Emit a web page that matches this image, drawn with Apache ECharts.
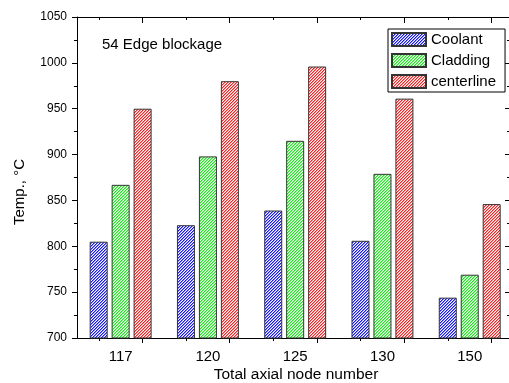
<!DOCTYPE html>
<html>
<head>
<meta charset="utf-8">
<script src="https://cdn.jsdelivr.net/npm/echarts@6/dist/echarts.min.js"></script>
<style>
  html, body { margin: 0; padding: 0; background: #fff; }
  #chart { width: 509px; height: 383px; }
</style>
</head>
<body>
<div id="chart"></div>
<script>
var categories = ['117', '120', '125', '130', '150'];
var coolant = [805, 823, 839, 806, 744];
var cladding = [867, 898, 915, 879, 769];
var centerline = [950, 980, 996, 961, 846];

// Origin style x axis: groups at 1..5, major ticks between them
var groupPos = [1, 2, 3, 4, 5];
var majorX = [1.25, 2.25, 3.25, 4.25, 5.25];
var minorX = [0.75, 1.75, 2.75, 3.75, 4.75];

// diagonal hatch tile, drawn pixel by pixel
function hatch(rgb) {
    var s = 3;
    var c = document.createElement('canvas');
    c.width = s; c.height = s;
    var g = c.getContext('2d');
    var img = g.createImageData(s, s);
    for (var y = 0; y < s; y++) {
        for (var x = 0; x < s; x++) {
            var k = (x + y) % s;
            var a = k === 0 ? 1 : (k === 1 ? 0.5 : 0);
            var i = (y * s + x) * 4;
            for (var j = 0; j < 3; j++) img.data[i + j] = Math.round(255 * (1 - a) + rgb[j] * a);
            img.data[i + 3] = 255;
        }
    }
    g.putImageData(img, 0, 0);
    return { image: c, repeat: 'repeat' };
}

function pairs(vals) {
    return vals.map(function (v, i) { return [groupPos[i], v]; });
}

var font = 'Liberation Sans, Arial, sans-serif';
var xMin = 0.5, xMax = 5.45;

function xAx(pos, ticks, len, inside, showLine, labels) {
    return {
        type: 'value', position: pos, min: xMin, max: xMax,
        axisLine: { show: showLine, onZero: false, lineStyle: { color: '#000', width: 1 } },
        axisTick: { show: true, customValues: ticks, length: len, inside: inside, lineStyle: { color: '#000' } },
        axisLabel: labels ? {
            show: true, customValues: groupPos, margin: 11,
            color: '#000', fontSize: 15, fontFamily: font,
            formatter: function (v) { return categories[Math.round(v) - 1]; }
        } : { show: false },
        splitLine: { show: false }
    };
}

var chart = echarts.init(document.getElementById('chart'));
var series = [
    { name: 'Coolant', data: pairs(coolant), color: hatch([20, 20, 255]) },
    { name: 'Cladding', data: pairs(cladding), color: hatch([20, 235, 20]) },
    { name: 'centerline', data: pairs(centerline), color: hatch([255, 30, 30]) }
].map(function (s) {
    return {
        name: s.name, type: 'bar', data: s.data, barWidth: 18, barGap: '22%',
        xAxisIndex: 0, yAxisIndex: 0,
        itemStyle: { color: s.color, borderColor: '#333', borderWidth: 1 },
        emphasis: { disabled: true }
    };
});

chart.setOption({
    animation: false,
    backgroundColor: '#fff',
    grid: { left: 77, right: 0, top: 17, bottom: 45 },
    xAxis: [
        xAx('bottom', majorX, 5, false, true, true),
        xAx('bottom', minorX, 3, false, false, false),
        xAx('top', majorX, 6, true, true, false),
        xAx('top', minorX, 3, true, false, false)
    ],
    yAxis: [{
        type: 'value', min: 700, max: 1050, interval: 50, position: 'left',
        axisLine: { show: true, lineStyle: { color: '#000' } },
        axisTick: { show: true, length: 5, lineStyle: { color: '#000' } },
        minorTick: { show: true, splitNumber: 2, length: 3, lineStyle: { color: '#000' } },
        axisLabel: {
            color: '#000', fontSize: 12, fontFamily: font, margin: 10,
            formatter: function (v) { return String(v); }
        },
        splitLine: { show: false }
    }, {
        type: 'value', min: 700, max: 1050, interval: 50, position: 'right',
        axisLine: { show: true, lineStyle: { color: '#000' } },
        axisTick: { show: true, inside: true, length: 4, lineStyle: { color: '#000' } },
        minorTick: { show: true, splitNumber: 2, length: 2, lineStyle: { color: '#000' } },
        axisLabel: { show: false },
        splitLine: { show: false }
    }],
    legend: {
        orient: 'vertical', left: 388, top: 29,
        padding: [3, 9, 3, 3], itemGap: 6,
        itemWidth: 34, itemHeight: 13,
        borderColor: '#000', borderWidth: 1, borderRadius: 0,
        backgroundColor: '#fff',
        icon: 'rect',
        textStyle: { color: '#000', fontSize: 15, fontFamily: font },
        data: ['Coolant', 'Cladding', 'centerline']
    },
    graphic: [
        { type: 'text', left: 102, top: 37,
          style: { text: '54 Edge blockage', fill: '#000', font: '15px ' + font } },
        { type: 'text', x: 296, y: 367,
          style: { text: 'Total axial node number', fill: '#000', font: '15.5px ' + font, textAlign: 'center' } },
        { type: 'text', x: 20, y: 192, rotation: Math.PI / 2,
          style: { text: 'Temp., \u00B0C', fill: '#000', font: '15px ' + font, textAlign: 'center', textVerticalAlign: 'middle' } }
    ],
    series: series
});
</script>
</body>
</html>
